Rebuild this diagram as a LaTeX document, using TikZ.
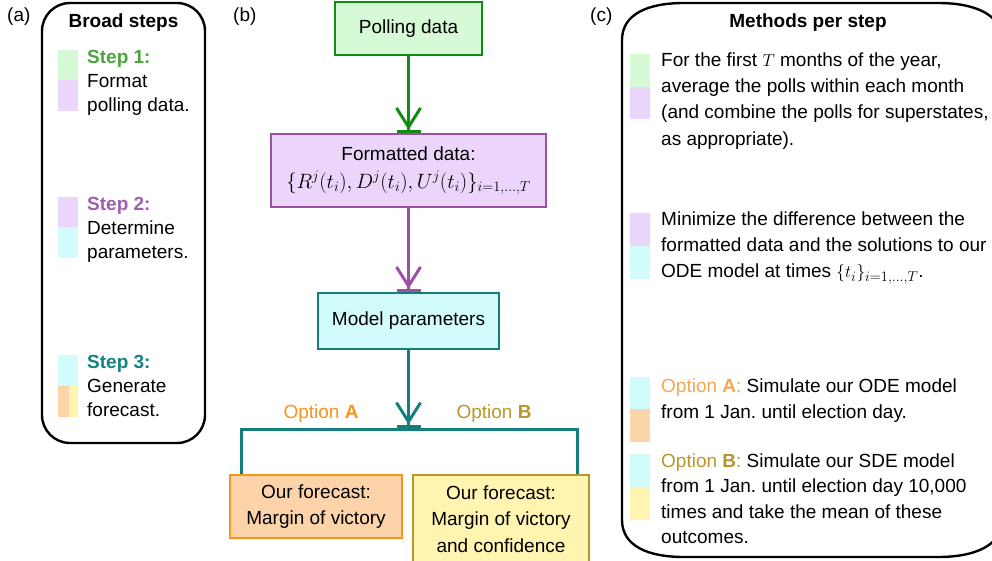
\documentclass[tikz,border=0pt]{standalone}
\usepackage{fontspec}
\setmainfont{Liberation Sans}
\usetikzlibrary{arrows.meta,calc}
\frenchspacing
\definecolor{gfill}{RGB}{213,250,213}
\definecolor{gline}{RGB}{16,140,16}
\definecolor{pfill}{RGB}{235,213,250}
\definecolor{pline}{RGB}{155,80,165}
\definecolor{cfill}{RGB}{210,252,252}
\definecolor{cline}{RGB}{20,125,125}
\definecolor{ofill}{RGB}{253,211,170}
\definecolor{oline}{RGB}{247,148,30}
\definecolor{yfill}{RGB}{255,244,176}
\definecolor{yline}{RGB}{185,150,40}
\definecolor{stepg}{RGB}{75,165,60}
\definecolor{stepp}{RGB}{160,95,175}
\definecolor{stept}{RGB}{20,130,130}
\definecolor{optA}{RGB}{250,145,25}
\definecolor{optAc}{RGB}{245,165,80}
\definecolor{optB}{RGB}{185,150,45}
\newcommand{\fs}{\fontsize{19}{26.3}\selectfont}
\newcommand{\fsa}{\fontsize{19}{24}\selectfont}
\newcommand{\fsb}{\fontsize{19}{25.5}\selectfont}
\newcommand{\fl}{\rule{0pt}{15pt}}
\begin{document}
\begin{tikzpicture}[x=1pt,y=-1pt,
  panel/.style={draw=black,line width=2.4pt},
  box/.style={line width=2.4pt,align=center,font=\fs,inner sep=0pt},
  txt/.style={anchor=north west,inner sep=0pt,align=left,font=\fs},
  conn/.style={line width=3pt,-{Straight Barb[length=19pt,width=24pt]Bar[width=24pt]}},
  plain/.style={line width=3pt}]
\useasboundingbox (0,0) rectangle (992,560);

% ---------- panel (a)
\node[anchor=base west,inner sep=0pt,font=\fs] (la) at (7,21) {(a)};
\draw[panel,rounded corners=28pt] (42,3) rectangle (205,443);
\node[anchor=base,inner sep=0pt,font=\fs\bfseries] (ha) at (123.5,27) {Broad steps};
\fill[gfill] (58,50) rectangle (78,80);
\fill[pfill] (58,80) rectangle (78,111);
\fill[pfill] (58,197) rectangle (78,227);
\fill[cfill] (58,227) rectangle (78,258);
\fill[cfill] (58,355) rectangle (78,386);
\fill[ofill] (58,386) rectangle (69,417);
\fill[yfill] (69,386) rectangle (78,417);
\node[txt,font=\fsa] (s1) at (87,48) {\fl\textcolor{stepg}{\bfseries Step 1:}\\Format\\polling data.};
\node[txt,font=\fsa] (s2) at (87,195) {\fl\textcolor{stepp}{\bfseries Step 2:}\\Determine\\parameters.};
\node[txt,font=\fsa] (s3) at (87,353) {\fl\textcolor{stept}{\bfseries Step 3:}\\Generate\\forecast.};

% ---------- panel (b)
\node[anchor=base west,inner sep=0pt,font=\fs] (lb) at (233,21) {(b)};
\node[box,draw=gline,fill=gfill,minimum width=147pt,minimum height=53pt] (poll) at (408.5,28.5) {Polling data};
\node[box,draw=pline,fill=pfill,minimum width=275pt,minimum height=73pt] (fmt) at (408.5,170.5)
  {Formatted data:\\[1pt] \fontsize{20}{24}\selectfont $\{R^j(t_i), D^j(t_i), U^j(t_i)\}_{i=1,\ldots,T}$};
\node[box,draw=cline,fill=cfill,minimum width=181pt,minimum height=56pt] (par) at (408.5,321) {Model parameters};
\node[box,draw=oline,fill=ofill,minimum width=172pt,minimum height=63pt] (fa) at (316,506.5) {Our forecast:\\Margin of victory};
\node[box,draw=yline,fill=yfill,minimum width=176pt,minimum height=88pt] (fb) at (501,519) {Our forecast:\\Margin of victory\\and confidence};
\coordinate (jn) at (408.5,429);
\coordinate (ja) at ($(fa.north west)+(13,0)$);
\coordinate (jb) at ($(fb.north east)+(-13,0)$);
\draw[conn,gline] (poll.south) -- (fmt.north);
\draw[conn,pline] (fmt.south) -- (par.north);
\draw[conn,cline] (par.south) -- ($(jn)+(0,-1.5)$);
\draw[plain,cline] (ja) |- (jn) -| (jb);
\node[anchor=base,inner sep=0pt,font=\fs,text=optA] (oa) at (321,418) {Option \textbf{A}};
\node[anchor=base,inner sep=0pt,font=\fs,text=optB] (ob) at (494,418) {Option \textbf{B}};

% ---------- panel (c)
\node[anchor=base west,inner sep=0pt,font=\fs] (lc) at (590,21) {(c)};
\draw[panel] (622,40) .. controls (622,14) and (648,3) .. (684,3) -- (938,3)
  .. controls (974,3) and (1002,14) .. (1002,40) -- (1002,520)
  .. controls (1002,546) and (974,557) .. (938,557) -- (684,557)
  .. controls (648,557) and (622,546) .. (622,520) -- cycle;
\node[anchor=base,inner sep=0pt,font=\fs\bfseries] (hc) at (808,27) {Methods per step};
\fill[gfill] (630,54) rectangle (650,87);
\fill[pfill] (630,87) rectangle (650,119);
\fill[pfill] (630,213) rectangle (650,246);
\fill[cfill] (630,246) rectangle (650,279);
\fill[cfill] (630,377) rectangle (650,409);
\fill[ofill] (630,409) rectangle (650,442);
\fill[cfill] (630,454) rectangle (650,487);
\fill[yfill] (630,487) rectangle (650,520);
\node[txt] (c1) at (661,51) {\fl For the first $T$ months of the year,\\average the polls within each month\\(and combine the polls for superstates,\\as appropriate).};
\node[txt] (c2) at (661,210) {\fl Minimize the difference between the\\formatted data and the solutions to our\\ODE model at times $\{t_i\}_{i=1,\ldots,T}$.};
\node[txt] (c3) at (661,377) {\fl\textcolor{optAc}{Option \textbf{A}:} Simulate our ODE model\\from 1 Jan. until election day.};
\node[txt,font=\fsb] (c4) at (661,452) {\fl\textcolor{optB}{Option \textbf{B}:} Simulate our SDE model\\from 1 Jan. until election day 10,000\\times and take the mean of these\\outcomes.};
\end{tikzpicture}
\end{document}
